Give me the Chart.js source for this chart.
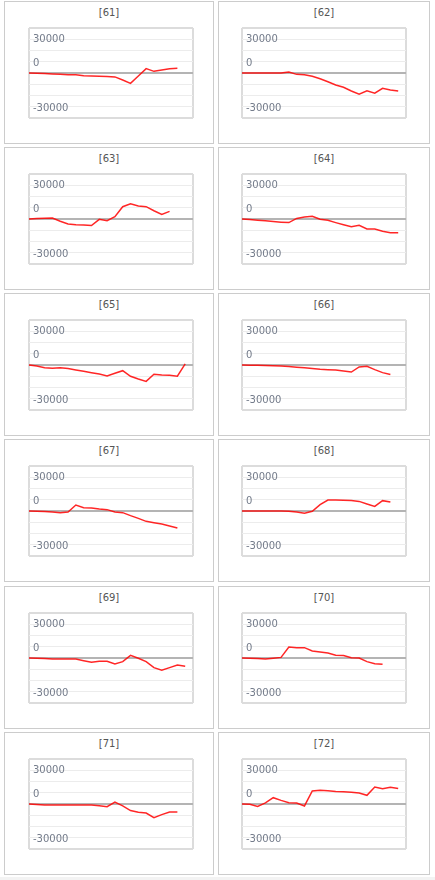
<!DOCTYPE html>
<html><head><meta charset="utf-8">
<script src="https://cdn.jsdelivr.net/npm/chart.js@4.4.1/dist/chart.umd.min.js"></script>
<style>
html,body{margin:0;padding:0;background:#fff;width:435px;height:880px;overflow:hidden;position:relative;}
.panel{position:absolute;box-sizing:border-box;border:1px solid #cccccc;background:#fff;}
.title{position:absolute;left:0;right:0;text-align:center;font:10px "DejaVu Sans",sans-serif;color:#555555;}
.strip{position:absolute;left:0;top:877px;width:435px;height:3px;background:#f3f3f3;}
canvas{position:absolute;}
</style></head><body>
<div class="strip"></div>
<script>
const titles = ['[61]','[62]','[63]','[64]','[65]','[66]','[67]','[68]','[69]','[70]','[71]','[72]'];
const days = ['1','2','3','4','5','6','7','8','9','10','11','12','13','14','15','16','17','18','19','20','21','22'];
const yTickLabels = [30000, 0, -30000];

const s61 = [0,-200,-400,-600,-900,-1100,-1200,-1800,-2000,-2200,-2300,-2600,-4700,-6900,-2000,2900,1100,2000,2900,3100];
const s62 = [0,0,0,0,0,0,700,-900,-1100,-2200,-3800,-5800,-8000,-9500,-12000,-14200,-11800,-13500,-10200,-11300,-12000];
const s63 = [0,300,500,600,-1500,-3300,-3800,-4000,-4400,-200,-1100,1600,8200,10200,8700,8200,5500,3100,5100];
const s64 = [0,-400,-800,-1200,-1700,-2100,-2400,400,1300,1800,-200,-900,-2400,-3800,-5100,-4200,-6700,-6700,-8200,-9100,-9100];
const s65 = [0,-700,-1800,-2200,-1800,-2400,-3300,-4200,-5100,-6000,-7300,-5500,-3800,-7500,-9300,-10900,-6200,-6700,-6900,-7500,700];
const s66 = [0,-100,-200,-400,-500,-600,-1000,-1500,-1900,-2400,-2900,-3100,-3300,-4000,-4700,-1300,-900,-3100,-5100,-6400];
const s67 = [0,-200,-400,-700,-1100,-700,4000,2200,2000,1300,900,-700,-1100,-3100,-4900,-6900,-7800,-8700,-10000,-11300];
const s68 = [0,0,0,0,0,0,-200,-700,-1500,-200,4200,7300,7300,7200,7000,6400,4700,3100,6900,6000];
const s69 = [0,-200,-400,-700,-700,-700,-700,-1800,-2900,-2200,-2200,-4000,-2400,1800,-200,-2400,-6400,-8200,-6400,-4700,-5500];
const s70 = [0,-200,-400,-700,-100,400,7300,6900,6900,4700,4000,3300,1800,1600,200,0,-2400,-3800,-4200];
const s71 = [0,-400,-700,-700,-700,-700,-700,-700,-700,-1100,-1800,1300,-1300,-4400,-5500,-6000,-9100,-7100,-5300,-5300];
const s72 = [0,-200,-1600,700,4200,2400,900,700,-1300,8700,9100,8900,8400,8200,7800,7300,5800,11300,10200,11100,10400];
const series = [s61,s62,s63,s64,s65,s66,s67,s68,s69,s70,s71,s72];

const PANEL_LEFT = [4, 218], PANEL_W = [210, 212];
const ROW_TOP = [1, 147, 293, 439, 586, 732], PANEL_H = 143;
const PLOT_LEFT = [29, 242], PLOT_W = 164, PLOT_H = 90, PLOT_DY = 27;
const PAD = {l: 10, r: 10, t: 16, b: 16};

function zeroW(s){ s.width = 0; }
function zeroH(s){ s.height = 0; }

series.forEach((data, idx) => {
  const col = idx % 2, row = Math.floor(idx / 2);
  const panel = document.createElement('div');
  panel.className = 'panel';
  panel.style.left = PANEL_LEFT[col] + 'px';
  panel.style.top = ROW_TOP[row] + 'px';
  panel.style.width = PANEL_W[col] + 'px';
  panel.style.height = PANEL_H + 'px';
  const t = document.createElement('div');
  t.className = 'title';
  t.style.top = '5px';
  t.textContent = titles[idx];
  panel.appendChild(t);
  document.body.appendChild(panel);

  const cv = document.createElement('canvas');
  cv.width = PLOT_W + PAD.l + PAD.r;
  cv.height = PLOT_H + PAD.t + PAD.b;
  cv.style.left = (PLOT_LEFT[col] - PAD.l) + 'px';
  cv.style.top = (ROW_TOP[row] + PLOT_DY - PAD.t) + 'px';
  cv.style.width = cv.width + 'px';
  cv.style.height = cv.height + 'px';
  document.body.appendChild(cv);

  new Chart(cv, {
    type: 'line',
    data: {
      labels: days,
      datasets: [{
        data: data,
        borderColor: 'rgba(255,0,0,0.85)',
        borderWidth: 1.5,
        pointRadius: 0,
        tension: 0,
        fill: false
      }]
    },
    options: {
      responsive: false,
      animation: false,
      devicePixelRatio: 1,
      layout: {padding: {left: PAD.l, right: PAD.r, top: PAD.t, bottom: PAD.b}},
      plugins: {legend: {display: false}, tooltip: {enabled: false}, title: {display: false}},
      scales: {
        x: {
          display: true, offset: false,
          ticks: {display: false},
          border: {display: false},
          grid: {
            drawTicks: false,
            lineWidth: 2,
            color: (c) => (c.index === 0 || c.index === days.length - 1) ? '#dcdcdc' : 'rgba(0,0,0,0)'
          },
          afterFit: zeroH
        },
        y: {
          position: 'left',
          min: -30000, max: 30000,
          border: {display: false},
          grid: {
            drawTicks: false,
            lineWidth: (c) => (c.tick && (c.tick.value === 0 || Math.abs(c.tick.value) === 30000)) ? 2 : 1,
            color: (c) => {
              if (!c.tick) return '#eeeeee';
              if (c.tick.value === 0) return '#b4b4b4';
              if (Math.abs(c.tick.value) === 30000) return '#dcdcdc';
              return '#ececec';
            }
          },
          ticks: {
            stepSize: 7500, autoSkip: false, mirror: true, padding: 4, labelOffset: -10,
            font: {family: 'DejaVu Sans', size: 10},
            color: '#737b8a',
            callback: (v) => (v !== 30000 && yTickLabels.includes(v)) ? String(v) : ''
          },
          afterFit: zeroW
        },
        y2: {
          position: 'left',
          min: -30000, max: 30000,
          border: {display: false},
          grid: {display: false, drawTicks: false},
          ticks: {
            stepSize: 7500, autoSkip: false, mirror: true, padding: 4, labelOffset: 11,
            font: {family: 'DejaVu Sans', size: 10},
            color: '#737b8a',
            callback: (v) => (v === yTickLabels[0]) ? String(v) : ''
          },
          afterFit: zeroW
        }
      }
    }
  });
});
</script>
</body></html>
